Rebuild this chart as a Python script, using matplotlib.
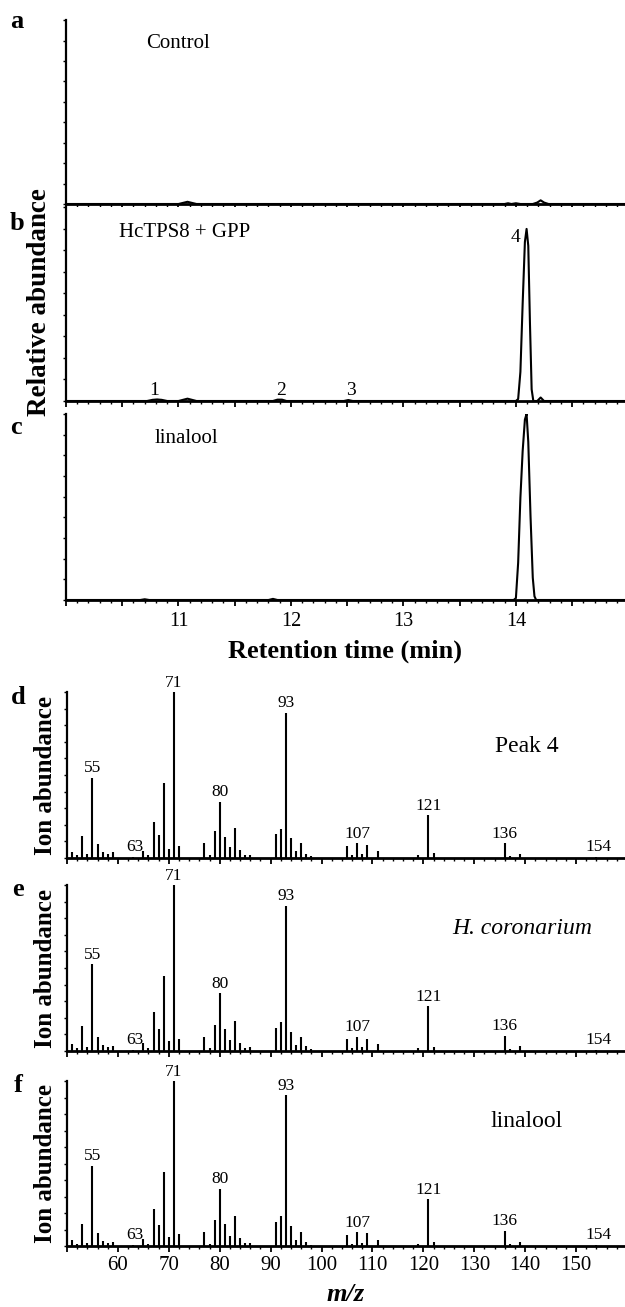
import matplotlib
matplotlib.use("Agg")
import matplotlib.pyplot as plt
from matplotlib.ticker import MultipleLocator, NullFormatter

plt.rcParams['font.family'] = ['Liberation Serif', 'DejaVu Serif']

# ---------------- chromatogram data (retention time in min, relative abundance) -------------
time_a = [10.0, 11.0, 11.04, 11.08, 11.12, 11.16, 13.9, 13.93, 13.96, 14.0, 14.04,
          14.15, 14.19, 14.22, 14.25, 14.29, 15.0]
abund_a = [0, 0, 0.006, 0.012, 0.006, 0, 0, 0.004, 0, 0.004, 0,
           0, 0.008, 0.02, 0.008, 0, 0]

time_b = [10.0, 10.72, 10.77, 10.81, 10.85, 10.9, 11.0, 11.04, 11.08, 11.12, 11.16,
          11.84, 11.88, 11.92, 11.96, 12.47, 12.51, 12.55,
          14.0, 14.02, 14.04, 14.06, 14.08, 14.095, 14.11, 14.125, 14.14, 14.155,
          14.19, 14.22, 14.25, 15.0]
abund_b = [0, 0, 0.006, 0.008, 0.006, 0, 0, 0.006, 0.012, 0.006, 0,
           0, 0.007, 0.007, 0, 0, 0.005, 0,
           0, 0.01, 0.15, 0.5, 0.82, 0.887, 0.8, 0.4, 0.06, 0,
           0, 0.018, 0, 0]

time_c = [10.0, 10.66, 10.7, 10.74, 11.8, 11.84, 11.88, 13.98, 14.0, 14.02, 14.04,
          14.06, 14.08, 14.095, 14.11, 14.13, 14.15, 14.165, 14.18, 15.0]
abund_c = [0, 0, 0.004, 0, 0, 0.006, 0, 0, 0.01, 0.2, 0.55,
           0.8, 0.97, 1.0, 0.85, 0.45, 0.12, 0.02, 0, 0]

chrom_titles = ["Control", "HcTPS8 + GPP", "linalool"]
chrom_letters = ["a", "b", "c"]
peak_numbers = ["1", "2", "3", "4"]
peak_number_times = [10.78, 11.91, 12.53, 14.0]
peak_number_levels = [0.01, 0.01, 0.01, 0.80]
rt_ticklabels = [11, 12, 13, 14]

# ---------------- mass spectra data (m/z, relative ion abundance) ----------------
mz = [51, 52, 53, 54, 55, 56, 57, 58, 59, 63, 65, 66, 67, 68, 69, 70, 71, 72,
      77, 78, 79, 80, 81, 82, 83, 84, 85, 86, 91, 92, 93, 94, 95, 96, 97, 98,
      105, 106, 107, 108, 109, 111, 119, 121, 122, 136, 137, 139, 154]
ion_d = [3.6, 2.0, 13.0, 2.6, 48.4, 8.2, 3.8, 2.6, 3.4, 0.6, 4.2, 2.0, 21.9, 13.7, 45.2, 5.6, 100, 7.4,
         8.8, 2.0, 16.0, 33.9, 12.9, 6.4, 17.9, 5.0, 2.0, 2.0, 14.5, 17.7, 87.6, 11.8, 4.0, 8.8, 2.6, 1.4,
         7.0, 2.0, 8.8, 2.6, 7.6, 4.0, 1.8, 25.7, 3.0, 8.8, 1.0, 2.6, 0.4]
ion_e = [4.3, 2.0, 15.2, 2.6, 52.4, 8.3, 3.9, 2.2, 3.3, 0.6, 4.7, 2.0, 23.4, 13.4, 45.3, 5.9, 100, 7.1,
         8.5, 2.0, 15.4, 34.8, 13.4, 6.5, 18.1, 4.9, 2.0, 2.2, 13.6, 17.5, 87.6, 11.6, 3.9, 8.5, 3.3, 1.0,
         7.1, 2.0, 8.7, 2.4, 7.5, 4.3, 1.8, 27.0, 2.6, 9.3, 1.0, 2.8, 0.4]
ion_f = [3.4, 1.4, 13.4, 2.0, 48.6, 7.7, 3.2, 1.8, 2.6, 0.6, 4.0, 1.4, 22.5, 13.0, 45.0, 5.5, 100, 7.1,
         8.5, 1.2, 16.0, 34.8, 13.2, 6.1, 18.0, 4.7, 1.6, 1.6, 14.4, 18.0, 91.5, 12.1, 3.4, 8.5, 2.2, 0.8,
         6.9, 1.4, 8.5, 2.0, 7.9, 3.8, 1.4, 28.3, 2.4, 9.3, 1.0, 2.2, 0.4]
ms_titles = ["Peak 4", "H. coronarium", "linalool"]
ms_title_styles = ["normal", "italic", "normal"]
ms_letters = ["d", "e", "f"]
labelled_mz = [55, 71, 80, 93, 107, 121, 136]
baseline_labels = [63, 154]
mz_ticklabels = [60, 70, 80, 90, 100, 110, 120, 130, 140, 150]

# ---------------- layout helpers ----------------
W, H = 625, 1307
fig = plt.figure(figsize=(W / 100, H / 100), dpi=100)


def ax_px(left, top, right, bottom):
    return fig.add_axes([left / W, 1 - bottom / H, (right - left) / W, (bottom - top) / H])


def fx(x):
    return x / W


def fy(y):
    return 1 - y / H


def style_axes(ax):
    for s in ("top", "right"):
        ax.spines[s].set_visible(False)
    ax.spines["left"].set_linewidth(1.6)
    ax.spines["bottom"].set_linewidth(2.0)
    ax.tick_params(axis="x", which="major", direction="out", length=4, width=1.3, labelsize=15)
    ax.tick_params(axis="x", which="minor", direction="out", length=2, width=1.0)
    ax.tick_params(axis="y", which="both", direction="out", length=2, width=1.0, labelleft=False)


# ---------------- chromatograms ----------------
chrom_boxes = [(66, 20, 625, 204), (66, 207, 625, 401), (66, 414, 625, 600)]
chrom_data = [(time_a, abund_a), (time_b, abund_b), (time_c, abund_c)]
title_pos = [(10.71, 0.87), (10.47, 0.87), (10.79, 0.87)]
letter_pos = [(17, 22), (17, 223), (16, 427)]

for i, (box, (t, a)) in enumerate(zip(chrom_boxes, chrom_data)):
    ax = ax_px(*box)
    ax.plot(t, a, color="black", lw=1.5)
    ax.set_xlim(10.0, 14.97)
    ax.set_ylim(0, 1.0)
    style_axes(ax)
    ax.xaxis.set_major_locator(MultipleLocator(0.5))
    ax.xaxis.set_minor_locator(MultipleLocator(0.1))
    ax.yaxis.set_major_locator(MultipleLocator(0.111))
    ax.tick_params(axis="x", which="major", labelsize=14.5, pad=5)
    if i == 2:
        ax.xaxis.set_major_formatter(
            plt.FuncFormatter(lambda v, p: f"{int(round(v))}" if abs(v - round(v)) < 1e-6 and int(round(v)) in rt_ticklabels else ""))
        ax.set_xlabel("Retention time (min)", fontsize=19, fontweight="bold", labelpad=6)
    else:
        ax.xaxis.set_major_formatter(NullFormatter())
    ax.text(title_pos[i][0], title_pos[i][1], chrom_titles[i], fontsize=15, ha="left", va="center")
    if i == 1:
        for lab, tm, lv in zip(peak_numbers, peak_number_times, peak_number_levels):
            ax.text(tm, lv, lab, fontsize=14, ha="center", va="bottom")
    fig.text(fx(letter_pos[i][0]), fy(letter_pos[i][1]), chrom_letters[i],
             fontsize=19, fontweight="bold", ha="center", va="center")

fig.text(fx(40), fy(302), "Relative abundance", rotation=90, fontsize=19.5,
         fontweight="bold", ha="center", va="center")

# ---------------- mass spectra ----------------
ms_boxes = [(67, 692, 625, 858), (67, 885, 625, 1051), (67, 1081, 625, 1246)]
ms_data = [ion_d, ion_e, ion_f]
ms_title_pos = [(140.3, 0.67), (139.5, 0.74), (140.3, 0.755)]
ms_letter_pos = [(18, 698), (18, 889), (18, 1085)]

for i, (box, vals) in enumerate(zip(ms_boxes, ms_data)):
    ax = ax_px(*box)
    ax.vlines(mz, 0, vals, color="black", lw=1.5)
    ax.set_xlim(50, 159.6)
    ax.set_ylim(0, 100)
    style_axes(ax)
    ax.xaxis.set_major_locator(MultipleLocator(10))
    ax.xaxis.set_minor_locator(MultipleLocator(2))
    ax.yaxis.set_major_locator(MultipleLocator(10))
    ax.tick_params(axis="x", which="major", labelsize=15, pad=3)
    if i == 2:
        ax.xaxis.set_major_formatter(
            plt.FuncFormatter(lambda v, p: f"{int(round(v))}" if int(round(v)) in mz_ticklabels else ""))
        ax.set_xlabel("m/z", fontsize=19, fontweight="bold", fontstyle="italic", labelpad=6)
    else:
        ax.xaxis.set_major_formatter(NullFormatter())
    for m in labelled_mz:
        v = vals[mz.index(m)]
        ax.annotate(str(m), (m, v), xytext=(0, 1), textcoords="offset points",
                    ha="center", va="bottom", fontsize=12.5)
    for m in baseline_labels:
        ax.annotate(str(m), (m + 0.3, 0), xytext=(0, 2), textcoords="offset points",
                    ha="center", va="bottom", fontsize=12.5)
    ax.text(ms_title_pos[i][0], ms_title_pos[i][1] * 100, ms_titles[i], fontsize=17,
            fontstyle=ms_title_styles[i], ha="center", va="center")
    fig.text(fx(ms_letter_pos[i][0]), fy(ms_letter_pos[i][1]), ms_letters[i],
             fontsize=19, fontweight="bold", ha="center", va="center")
    fig.text(fx(46), fy((box[1] + box[3]) / 2), "Ion abundance", rotation=90, fontsize=18,
             fontweight="bold", ha="center", va="center")

fig.savefig("out.png", dpi=100)
